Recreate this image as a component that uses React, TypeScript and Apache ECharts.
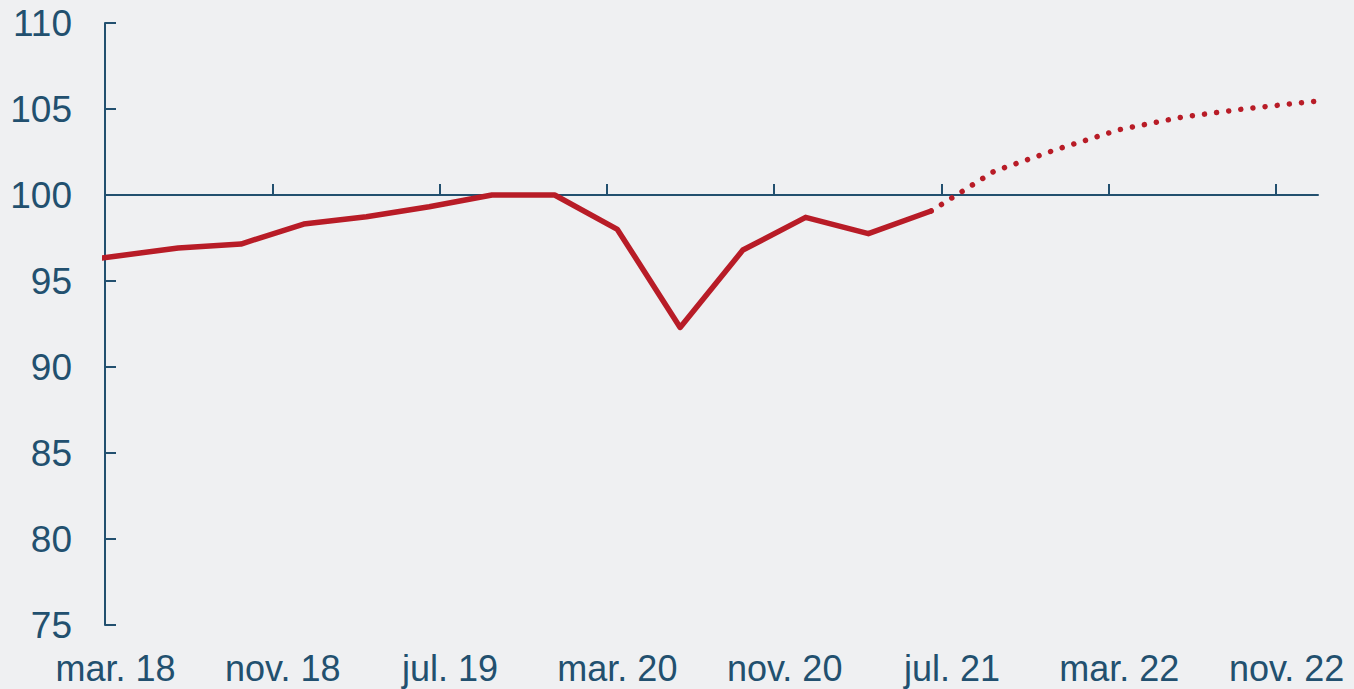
import React, { useEffect, useRef } from "react";
import * as echarts from "echarts";

// Quarterly index values (month of quarter-end), actual and projected
const actualMonths = ["2017-12", "2018-03", "2018-06", "2018-09", "2018-12", "2019-03", "2019-06", "2019-09", "2019-12", "2020-03", "2020-06", "2020-09", "2020-12", "2021-03", "2021-06"];
const actualValues = [95.97, 96.44, 96.92, 97.15, 98.31, 98.74, 99.32, 100.0, 100.0, 98.0, 92.3, 96.8, 98.7, 97.75, 99.07];
const projMonths = ["2021-06", "2021-09", "2021-12", "2022-03", "2022-06", "2022-09", "2022-12", "2023-03"];
const projValues = [99.07, 101.37, 102.65, 103.8, 104.53, 105.01, 105.4, 105.75];

const xTickLabels = ["mar. 18", "nov. 18", "jul. 19", "mar. 20", "nov. 20", "jul. 21", "mar. 22", "nov. 22"];
const yMin = 75;
const yMax = 110;
const yStep = 5;
const baseLine = 100;

const START_YEAR = 2018;
const START_MONTH = 3;
const X_MAX = 58; // months shown (mar. 18 .. jan. 23)
const LABEL_STEP = 8;

const toX = (ym: string) => {
  const [y, m] = ym.split("-").map(Number);
  return (y - START_YEAR) * 12 + (m - START_MONTH) + 0.5;
};

const RED = "#b81c27";
const BLUE = "#22506f";
const FONT = "'Liberation Sans', Arial, sans-serif";

export default function App() {
  const ref = useRef<HTMLDivElement>(null);
  useEffect(() => {
    if (!ref.current) return;
    const chart = echarts.init(ref.current, null, { renderer: "svg" });
    const tickValues = xTickLabels.map((_, i) => i * LABEL_STEP);
    const labelValues = xTickLabels.map((_, i) => i * LABEL_STEP + 0.5);
    const gridTop = 23;
    const gridBottomPx = 625;
    const plotH = gridBottomPx - gridTop;
    const offset100 = -((baseLine - yMin) / (yMax - yMin)) * plotH;
    chart.setOption({
      animation: false,
      backgroundColor: "#eff0f2",
      grid: { left: 105, right: 36, top: gridTop, bottom: 689 - gridBottomPx, containLabel: false },
      xAxis: [
        {
          type: "value",
          min: 0,
          max: X_MAX,
          position: "bottom",
          axisLine: { show: false },
          axisTick: { show: false },
          splitLine: { show: false },
          axisLabel: {
            customValues: labelValues,
            formatter: (v: number) => xTickLabels[Math.floor(v / LABEL_STEP)] ?? "",
            color: BLUE,
            fontSize: 36,
            lineHeight: 36,
            fontFamily: FONT,
            margin: 25,
          },
        },
        {
          type: "value",
          min: 0,
          max: X_MAX,
          position: "bottom",
          offset: offset100,
          axisLine: { show: true, lineStyle: { color: BLUE, width: 2 } },
          axisTick: { show: true, inside: true, length: 11, customValues: tickValues, lineStyle: { color: BLUE, width: 2 } },
          axisLabel: { show: false },
          splitLine: { show: false },
        },
      ],
      yAxis: {
        type: "value",
        min: yMin,
        max: yMax,
        interval: yStep,
        axisLine: { show: true, lineStyle: { color: BLUE, width: 2 } },
        axisTick: { show: true, inside: true, length: 11, lineStyle: { color: BLUE, width: 2 } },
        splitLine: { show: false },
        axisLabel: { color: BLUE, fontSize: 37, fontFamily: FONT, margin: 33 },
      },
      series: [
        {
          type: "line",
          xAxisIndex: 0,
          data: actualMonths.map((m, i) => [toX(m), actualValues[i]]),
          showSymbol: false,
          clip: true,
          lineStyle: { color: RED, width: 5.5, cap: "round", join: "round" },
        },
        {
          type: "line",
          xAxisIndex: 0,
          data: projMonths.map((m, i) => [toX(m), projValues[i]]),
          showSymbol: false,
          clip: true,
          lineStyle: { color: RED, width: 5.5, type: [0.01, 12.2], cap: "round", join: "round" },
        },
      ],
    });
    return () => chart.dispose();
  }, []);
  return <div ref={ref} style={{ position: "absolute", left: 0, top: 0, width: 1354, height: 689 }} />;
}
